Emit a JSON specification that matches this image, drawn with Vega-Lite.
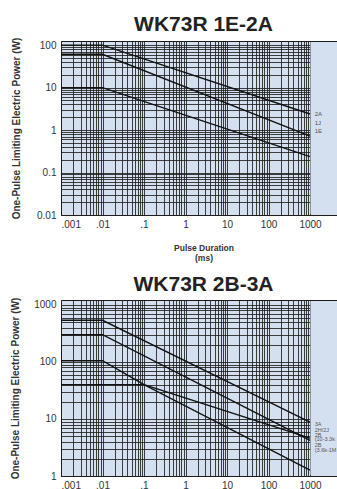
{
  "$schema": "https://vega.github.io/schema/vega-lite/v6.json",
  "padding": {"left": 10, "top": 13, "right": 0, "bottom": 0},
  "spacing": 11,
  "datasets": {
    "p1": [
      {"series": "2A", "ms": 0.001, "w": 100}, {"series": "2A", "ms": 0.01, "w": 100}, {"series": "2A", "ms": 1000, "w": 2.39},
      {"series": "1J", "ms": 0.001, "w": 61}, {"series": "1J", "ms": 0.01, "w": 61}, {"series": "1J", "ms": 1000, "w": 0.72},
      {"series": "1E", "ms": 0.001, "w": 10}, {"series": "1E", "ms": 0.01, "w": 10}, {"series": "1E", "ms": 1000, "w": 0.236}
    ],
    "p1lab": [
      {"label": "2A", "ms": 1300, "w": 2.39},
      {"label": "1J", "ms": 1300, "w": 1.47},
      {"label": "1E", "ms": 1300, "w": 0.95}
    ],
    "p1pad": [{"ms0": 1025, "ms1": 7370, "w0": 0.0106, "w1": 119}],
    "p2": [
      {"series": "3A", "ms": 0.001, "w": 537}, {"series": "3A", "ms": 0.01, "w": 537}, {"series": "3A", "ms": 1000, "w": 8.8},
      {"series": "2H/2J", "ms": 0.001, "w": 300}, {"series": "2H/2J", "ms": 0.01, "w": 300}, {"series": "2H/2J", "ms": 1000, "w": 4.2},
      {"series": "2B (10-3.3k)", "ms": 0.001, "w": 105}, {"series": "2B (10-3.3k)", "ms": 0.01, "w": 105}, {"series": "2B (10-3.3k)", "ms": 0.1, "w": 40}, {"series": "2B (10-3.3k)", "ms": 1000, "w": 4.6},
      {"series": "2B (3.6k-1M)", "ms": 0.001, "w": 40}, {"series": "2B (3.6k-1M)", "ms": 0.1, "w": 40}, {"series": "2B (3.6k-1M)", "ms": 1000, "w": 1.27}
    ],
    "p2lab": [
      {"label": "3A", "ms": 1300, "w": 8.04},
      {"label": "2H/2J", "ms": 1300, "w": 6.47},
      {"label": "2B", "ms": 1300, "w": 5.28},
      {"label": "(10-3.3k", "ms": 1300, "w": 4.39},
      {"label": "2B", "ms": 1300, "w": 3.49},
      {"label": "(3.6k-1M", "ms": 1300, "w": 2.83}
    ],
    "p2pad": [{"ms0": 1025, "ms1": 7370, "w0": 1.04, "w1": 1170}]
  },
  "config": {
    "font": "Liberation Sans",
    "view": {"fill": "#d4e0f0", "stroke": "#1a1a1a", "strokeWidth": 1},
    "axis": {
      "grid": true, "gridColor": "#1e1e1e", "gridOpacity": 0.85, "gridWidth": 1,
      "ticks": false, "domain": false,
      "labelFont": "Liberation Sans", "labelFontSize": 10, "labelColor": "#333", "labelOverlap": false, "labelPadding": 4,
      "titleFont": "Liberation Sans", "titleFontWeight": "bold", "titleColor": "#333"
    },
    "title": {"fontSize": 21, "font": "Liberation Sans", "fontWeight": "bold", "color": "#222", "anchor": "middle", "frame": "group", "offset": 2}
  },
  "vconcat": [
    {
      "width": 285, "height": 174,
      "title": "WK73R 1E-2A",
      "layer": [
        {
          "data": {"name": "p1"},
          "mark": {"type": "line", "color": "#111", "strokeWidth": 1.4},
          "encoding": {
            "x": {"field": "ms", "type": "quantitative",
              "scale": {"type": "log", "domain": [0.001, 7370], "nice": false},
              "axis": {"title": ["Pulse Duration", "(ms)"], "titleFontSize": 8.5, "titleLineHeight": 10, "titlePadding": 14,
                "values": [0.001,0.002,0.003,0.004,0.005,0.006,0.007,0.008,0.009,0.01,0.02,0.03,0.04,0.05,0.06,0.07,0.08,0.09,0.1,0.2,0.3,0.4,0.5,0.6,0.7,0.8,0.9,1,2,3,4,5,6,7,8,9,10,20,30,40,50,60,70,80,90,100,200,300,400,500,600,700,800,900,1000],
                "labelExpr": "datum.value == 0.001 ? '.001' : datum.value == 0.01 ? '.01' : datum.value == 0.1 ? '.1' : datum.value == 1 ? '1' : datum.value == 10 ? '10' : datum.value == 100 ? '100' : datum.value == 1000 ? '1000' : ''"}},
            "y": {"field": "w", "type": "quantitative",
              "scale": {"type": "log", "domain": [0.01, 125], "nice": false},
              "axis": {"title": "One-Pulse Limiting Electric Power (W)", "titleFontSize": 10, "titlePadding": 15.5, "labelPadding": 5,
                "values": [0.01,0.02,0.03,0.04,0.05,0.06,0.07,0.08,0.09,0.1,0.2,0.3,0.4,0.5,0.6,0.7,0.8,0.9,1,2,3,4,5,6,7,8,9,10,20,30,40,50,60,70,80,90,100],
                "labelExpr": "datum.value == 0.01 ? '0.01' : datum.value == 0.1 ? '0.1' : datum.value == 1 ? '1' : datum.value == 10 ? '10' : datum.value == 100 ? '100' : ''"}},
            "detail": {"field": "series"}
          }
        },
        {
          "data": {"name": "p1pad"},
          "mark": {"type": "rect", "color": "#d4e0f0"},
          "encoding": {
            "x": {"field": "ms0", "type": "quantitative"},
            "x2": {"field": "ms1"},
            "y": {"field": "w0", "type": "quantitative"},
            "y2": {"field": "w1"}
          }
        },
        {
          "data": {"name": "p1lab"},
          "mark": {"type": "text", "align": "left", "baseline": "middle", "fontSize": 6, "color": "#555"},
          "encoding": {
            "x": {"field": "ms", "type": "quantitative"},
            "y": {"field": "w", "type": "quantitative"},
            "text": {"field": "label"}
          }
        }
      ]
    },
    {
      "width": 285, "height": 176,
      "title": "WK73R 2B-3A",
      "layer": [
        {
          "data": {"name": "p2"},
          "mark": {"type": "line", "color": "#111", "strokeWidth": 1.4},
          "encoding": {
            "x": {"field": "ms", "type": "quantitative",
              "scale": {"type": "log", "domain": [0.001, 7370], "nice": false},
              "axis": {"title": null,
                "values": [0.001,0.002,0.003,0.004,0.005,0.006,0.007,0.008,0.009,0.01,0.02,0.03,0.04,0.05,0.06,0.07,0.08,0.09,0.1,0.2,0.3,0.4,0.5,0.6,0.7,0.8,0.9,1,2,3,4,5,6,7,8,9,10,20,30,40,50,60,70,80,90,100,200,300,400,500,600,700,800,900,1000],
                "labelExpr": "datum.value == 0.001 ? '.001' : datum.value == 0.01 ? '.01' : datum.value == 0.1 ? '.1' : datum.value == 1 ? '1' : datum.value == 10 ? '10' : datum.value == 100 ? '100' : datum.value == 1000 ? '1000' : ''"}},
            "y": {"field": "w", "type": "quantitative",
              "scale": {"type": "log", "domain": [1, 1220], "nice": false},
              "axis": {"title": "One-Pulse Limiting Electric Power (W)", "titleFontSize": 10, "titlePadding": 12.8, "labelPadding": 5,
                "values": [1,2,3,4,5,6,7,8,9,10,20,30,40,50,60,70,80,90,100,200,300,400,500,600,700,800,900,1000],
                "labelExpr": "datum.value == 1 ? '1' : datum.value == 10 ? '10' : datum.value == 100 ? '100' : datum.value == 1000 ? '1000' : ''"}},
            "detail": {"field": "series"}
          }
        },
        {
          "data": {"name": "p2pad"},
          "mark": {"type": "rect", "color": "#d4e0f0"},
          "encoding": {
            "x": {"field": "ms0", "type": "quantitative"},
            "x2": {"field": "ms1"},
            "y": {"field": "w0", "type": "quantitative"},
            "y2": {"field": "w1"}
          }
        },
        {
          "data": {"name": "p2lab"},
          "mark": {"type": "text", "align": "left", "baseline": "middle", "fontSize": 5.5, "color": "#555"},
          "encoding": {
            "x": {"field": "ms", "type": "quantitative"},
            "y": {"field": "w", "type": "quantitative"},
            "text": {"field": "label"}
          }
        }
      ]
    }
  ]
}
